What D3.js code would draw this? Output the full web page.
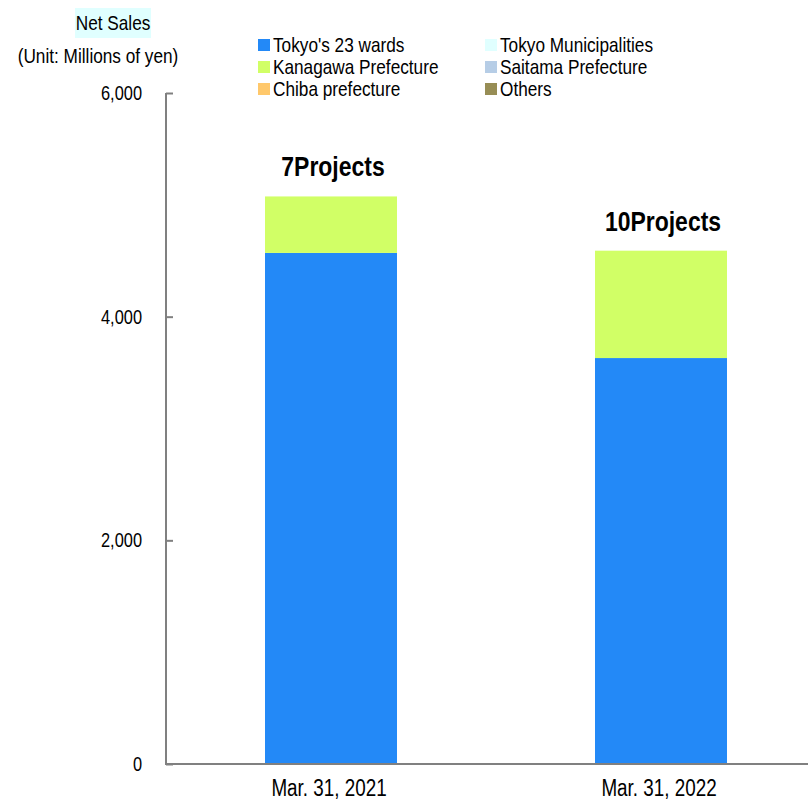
<!DOCTYPE html>
<html>
<head>
<meta charset="utf-8">
<script src="https://cdn.jsdelivr.net/npm/d3@7"></script>
<style>
  body { margin: 0; background: #fff; }
  text { font-family: "Liberation Sans", Arial, sans-serif; fill: #000; }
</style>
</head>
<body>
<div id="chart"></div>
<script>
// data
const periods = ["Mar. 31, 2021", "Mar. 31, 2022"]
const areas = ["Tokyo's 23 wards", "Tokyo Municipalities", "Kanagawa Prefecture", "Saitama Prefecture", "Chiba prefecture", "Others"]
const tokyo23 = [4570, 3630]
const tokyoMuni = [0, 0]
const kanagawa = [505, 960]
const saitama = [0, 0]
const chiba = [0, 0]
const others = [0, 0]
const projectLabels = ["7Projects", "10Projects"]
const yTicks = [0, 2000, 4000, 6000]
const areaColors = ["#2389f7", "#e0ffff", "#d1ff66", "#b6cde6", "#ffc86b", "#978d55"]

const width = 808
const height = 803
const margin = { top: 93, left: 166, bottom: 764 }
const squeeze = 0.82 // the reference uses a narrow sans face

// places a text with a horizontally condensed look
const place = (px, py) => `translate(${px},${py}) scale(${squeeze},1)`

// stackable table built from the arrays
const seriesValues = [tokyo23, tokyoMuni, kanagawa, saitama, chiba, others]
const table = periods.map((p, i) => {
  const row = { period: p }
  areas.forEach((a, k) => row[a] = seriesValues[k][i])
  return row
})
const series = d3.stack().keys(areas)(table)

const x = d3.scaleBand()
  .domain(periods)
  .range([margin.left, margin.left + 660])
  .paddingInner(0.6)
  .paddingOuter(0.3)

const y = d3.scaleLinear()
  .domain([0, 6000])
  .range([margin.bottom, margin.top])

const color = d3.scaleOrdinal().domain(areas).range(areaColors)

const svg = d3.select("#chart").append("svg")
  .attr("width", width)
  .attr("height", height)

// bars
svg.append("g")
  .selectAll("g")
  .data(series)
  .join("g")
    .attr("fill", d => color(d.key))
  .selectAll("rect")
  .data(d => d)
  .join("rect")
    .attr("x", d => x(d.data.period))
    .attr("y", d => y(d[1]))
    .attr("width", x.bandwidth())
    .attr("height", d => y(d[0]) - y(d[1]))

// project count labels
const totals = table.map(r => d3.sum(areas, a => r[a]))
svg.append("g")
  .selectAll("text")
  .data(periods)
  .join("text")
    .attr("transform", (d, i) => place(x(d) + x.bandwidth() / 2 + 2, y(totals[i]) - 20))
    .attr("text-anchor", "middle")
    .attr("font-size", 28)
    .attr("font-weight", "bold")
    .text((d, i) => projectLabels[i])

// y axis (ticks point inward)
const yAxis = svg.append("g")
  .attr("transform", `translate(${margin.left},0)`)
  .call(d3.axisRight(y).tickValues(yTicks).tickSize(7).tickFormat(""))
yAxis.select(".domain").attr("stroke", "#808080").attr("stroke-width", 2).attr("d", `M0,${margin.top}V${margin.bottom}`)
yAxis.selectAll(".tick line").attr("stroke", "#808080").attr("stroke-width", 2)

svg.append("g")
  .selectAll("text")
  .data(yTicks)
  .join("text")
    .attr("transform", d => place(142, y(d) + 7))
    .attr("text-anchor", "end")
    .attr("font-size", 20)
    .text(d => d3.format(",")(d))

// x axis
const xAxis = svg.append("g")
  .attr("transform", `translate(0,${margin.bottom})`)
  .call(d3.axisBottom(x).tickSize(0).tickFormat(""))
xAxis.select(".domain").attr("stroke", "#808080").attr("stroke-width", 2).attr("d", `M${margin.left - 1},0H${width}`)

svg.append("g")
  .selectAll("text")
  .data(periods)
  .join("text")
    .attr("transform", d => place(x(d) + x.bandwidth() / 2 - 2, 796))
    .attr("text-anchor", "middle")
    .attr("font-size", 23)
    .text(d => d)

// titles
svg.append("rect")
  .attr("x", 75).attr("y", 8).attr("width", 76).attr("height", 30)
  .attr("fill", "#e0ffff")
svg.append("text")
  .attr("transform", place(113, 30))
  .attr("text-anchor", "middle")
  .attr("font-size", 21)
  .text("Net Sales")
svg.append("text")
  .attr("transform", place(98, 63))
  .attr("text-anchor", "middle")
  .attr("font-size", 21)
  .text("(Unit: Millions of yen)")

// legend
const legendData = areas.map((a, i) => ({ name: a, col: i % 2, row: Math.floor(i / 2) }))
const legend = svg.append("g")
  .selectAll("g")
  .data(legendData)
  .join("g")
    .attr("transform", d => `translate(${d.col ? 485 : 258},${45 + d.row * 22})`)
legend.append("rect")
  .attr("x", 0).attr("y", -6)
  .attr("width", 12).attr("height", 12)
  .attr("fill", d => color(d.name))
legend.append("text")
  .attr("transform", place(15, 7))
  .attr("font-size", 21)
  .text(d => d.name)
</script>
</body>
</html>
